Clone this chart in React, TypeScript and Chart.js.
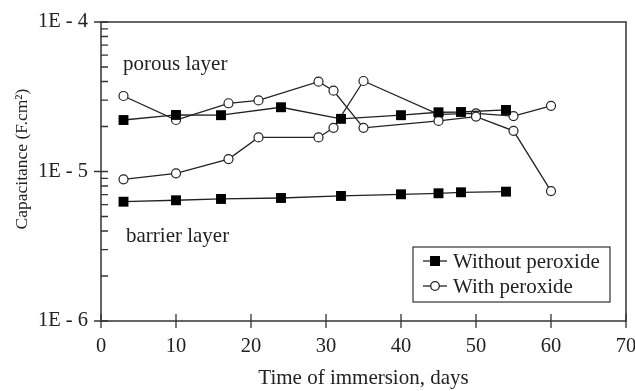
import React, { useEffect, useRef } from 'react';
import { Chart, registerables } from 'chart.js';
Chart.register(...registerables);

const daysWithout = [3, 10, 16, 24, 32, 40, 45, 48, 54];
const porousWithout = [2.21e-5, 2.39e-5, 2.38e-5, 2.69e-5, 2.25e-5, 2.38e-5, 2.49e-5, 2.5e-5, 2.58e-5];
const barrierWithout = [6.28e-6, 6.42e-6, 6.55e-6, 6.65e-6, 6.86e-6, 7.04e-6, 7.15e-6, 7.26e-6, 7.33e-6];
const daysWith = [3, 10, 17, 21, 29, 31, 35, 45, 50, 55, 60];
const withSeriesA = [3.2e-5, 2.21e-5, 2.86e-5, 2.99e-5, 3.99e-5, 3.47e-5, 1.96e-5, 2.18e-5, 2.33e-5, 1.87e-5, 7.4e-6];
const withSeriesB = [8.87e-6, 9.72e-6, 1.21e-5, 1.69e-5, 1.69e-5, 1.96e-5, 4.03e-5, 2.41e-5, 2.45e-5, 2.35e-5, 2.75e-5];
const xTickValues = [0, 10, 20, 30, 40, 50, 60, 70];
const yDecades = [1e-6, 1e-5, 1e-4];
const minorMultipliers = [2, 3, 4, 5, 6, 7, 8, 9];
const legendLabels = ['Without peroxide', 'With peroxide'];
const regionLabels = ['porous layer', 'barrier layer'];
const xTitle = 'Time of immersion, days';
const yTitle = 'Capacitance (F.cm²)';

const SERIF = '"Liberation Serif", "Times New Roman", serif';
const INK = '#222';

const toPts = (xs: number[], ys: number[]) => xs.map((x, i) => ({ x, y: ys[i] }));

const decorPlugin = {
  id: 'decor',
  afterDraw(chart: any) {
    const { ctx, chartArea, scales } = chart;
    const xs = scales.x;
    const ys = scales.y;
    const { left, right, top, bottom } = chartArea;
    ctx.save();
    ctx.strokeStyle = '#333';
    ctx.lineWidth = 1.5;
    ctx.strokeRect(left, top, right - left, bottom - top);
    ctx.lineWidth = 1.3;
    ctx.beginPath();
    yDecades.forEach((d) => {
      const y = ys.getPixelForValue(d);
      ctx.moveTo(left - 7, y);
      ctx.lineTo(left + 7, y);
      if (d < 1e-4) {
        minorMultipliers.forEach((m) => {
          const ym = ys.getPixelForValue(d * m);
          ctx.moveTo(left, ym);
          ctx.lineTo(left + 7, ym);
        });
      }
    });
    xTickValues.forEach((v) => {
      const x = xs.getPixelForValue(v);
      ctx.moveTo(x, bottom - 7);
      ctx.lineTo(x, bottom + 7);
    });
    ctx.stroke();

    ctx.fillStyle = INK;
    ctx.font = `21px ${SERIF}`;
    ctx.textBaseline = 'middle';
    ctx.textAlign = 'left';
    ctx.fillText(regionLabels[0], 123, 64);
    ctx.fillText(regionLabels[1], 126, 236);

    // y title
    ctx.save();
    ctx.translate(22, 159);
    ctx.rotate(-Math.PI / 2);
    ctx.textAlign = 'center';
    ctx.font = `17.5px ${SERIF}`;
    ctx.fillText(yTitle, 0, 0);
    ctx.restore();

    // legend
    const bx = 413, by = 247, bw = 197, bh = 55;
    ctx.fillStyle = '#fff';
    ctx.fillRect(bx, by, bw, bh);
    ctx.strokeStyle = '#333';
    ctx.lineWidth = 1.2;
    ctx.strokeRect(bx, by, bw, bh);
    const rows = [by + 14, by + 39];
    rows.forEach((ry, i) => {
      ctx.strokeStyle = INK;
      ctx.lineWidth = 1.3;
      ctx.beginPath();
      ctx.moveTo(423, ry);
      ctx.lineTo(447, ry);
      ctx.stroke();
      if (i === 0) {
        ctx.fillStyle = '#000';
        ctx.fillRect(435 - 5, ry - 5, 10, 10);
      } else {
        ctx.fillStyle = '#fff';
        ctx.beginPath();
        ctx.arc(435, ry, 4.3, 0, Math.PI * 2);
        ctx.fill();
        ctx.stroke();
      }
      ctx.fillStyle = INK;
      ctx.font = `21px ${SERIF}`;
      ctx.textAlign = 'left';
      ctx.fillText(legendLabels[i], 453, ry + 1);
    });
    ctx.restore();
  },
};

export default function App() {
  const ref = useRef<HTMLCanvasElement>(null);
  useEffect(() => {
    if (!ref.current) return;
    const lineStyle = { borderColor: INK, borderWidth: 1.3, showLine: true };
    const sq = { pointStyle: 'rect', pointRadius: 7, pointBackgroundColor: '#000', pointBorderColor: '#000', pointBorderWidth: 0 };
    const ci = { pointStyle: 'circle', pointRadius: 4.5, pointBackgroundColor: '#fff', pointBorderColor: INK, pointBorderWidth: 1.2 };
    const chart = new Chart(ref.current, {
      type: 'scatter',
      data: {
        datasets: [
          { label: 'Without peroxide porous', data: toPts(daysWithout, porousWithout), ...lineStyle, ...sq },
          { label: 'Without peroxide barrier', data: toPts(daysWithout, barrierWithout), ...lineStyle, ...sq },
          { label: 'With peroxide A', data: toPts(daysWith, withSeriesA), ...lineStyle, ...ci },
          { label: 'With peroxide B', data: toPts(daysWith, withSeriesB), ...lineStyle, ...ci },
        ] as any,
      },
      options: {
        animation: false,
        responsive: false,
        layout: { padding: { top: 22, right: 9, left: 0, bottom: 0 } },
        plugins: { legend: { display: false }, tooltip: { enabled: false } },
        scales: {
          x: {
            type: 'linear',
            min: 0,
            max: 70,
            grid: { display: false, drawTicks: false },
            border: { display: false },
            afterBuildTicks: (s: any) => { s.ticks = xTickValues.map((v) => ({ value: v })); },
            afterFit: (s: any) => { s.height = 70; s.paddingLeft = 0; s.paddingRight = 0; },
            ticks: { color: INK, font: { family: SERIF, size: 20.5 }, padding: 13, autoSkip: false, maxRotation: 0 },
            title: { display: true, text: xTitle, color: INK, font: { family: SERIF, size: 21 }, padding: { top: 5, bottom: 0 } },
          },
          y: {
            type: 'logarithmic',
            min: 1e-6,
            max: 1e-4,
            grid: { display: false, drawTicks: false },
            border: { display: false },
            afterBuildTicks: (s: any) => { s.ticks = yDecades.map((v) => ({ value: v })); },
            afterFit: (s: any) => { s.width = 101; s.paddingTop = 0; s.paddingBottom = 0; },
            ticks: {
              color: INK,
              font: { family: SERIF, size: 20.5 },
              padding: 13,
              callback: (v: any) => '1E - ' + Math.round(-Math.log10(Number(v))),
            },
          },
        },
      } as any,
      plugins: [decorPlugin],
    });
    return () => chart.destroy();
  }, []);
  return (
    <div style={{ position: 'fixed', left: 0, top: 0, width: 635, height: 391, background: '#fff' }}>
      <canvas ref={ref} width={635} height={391} />
    </div>
  );
}
